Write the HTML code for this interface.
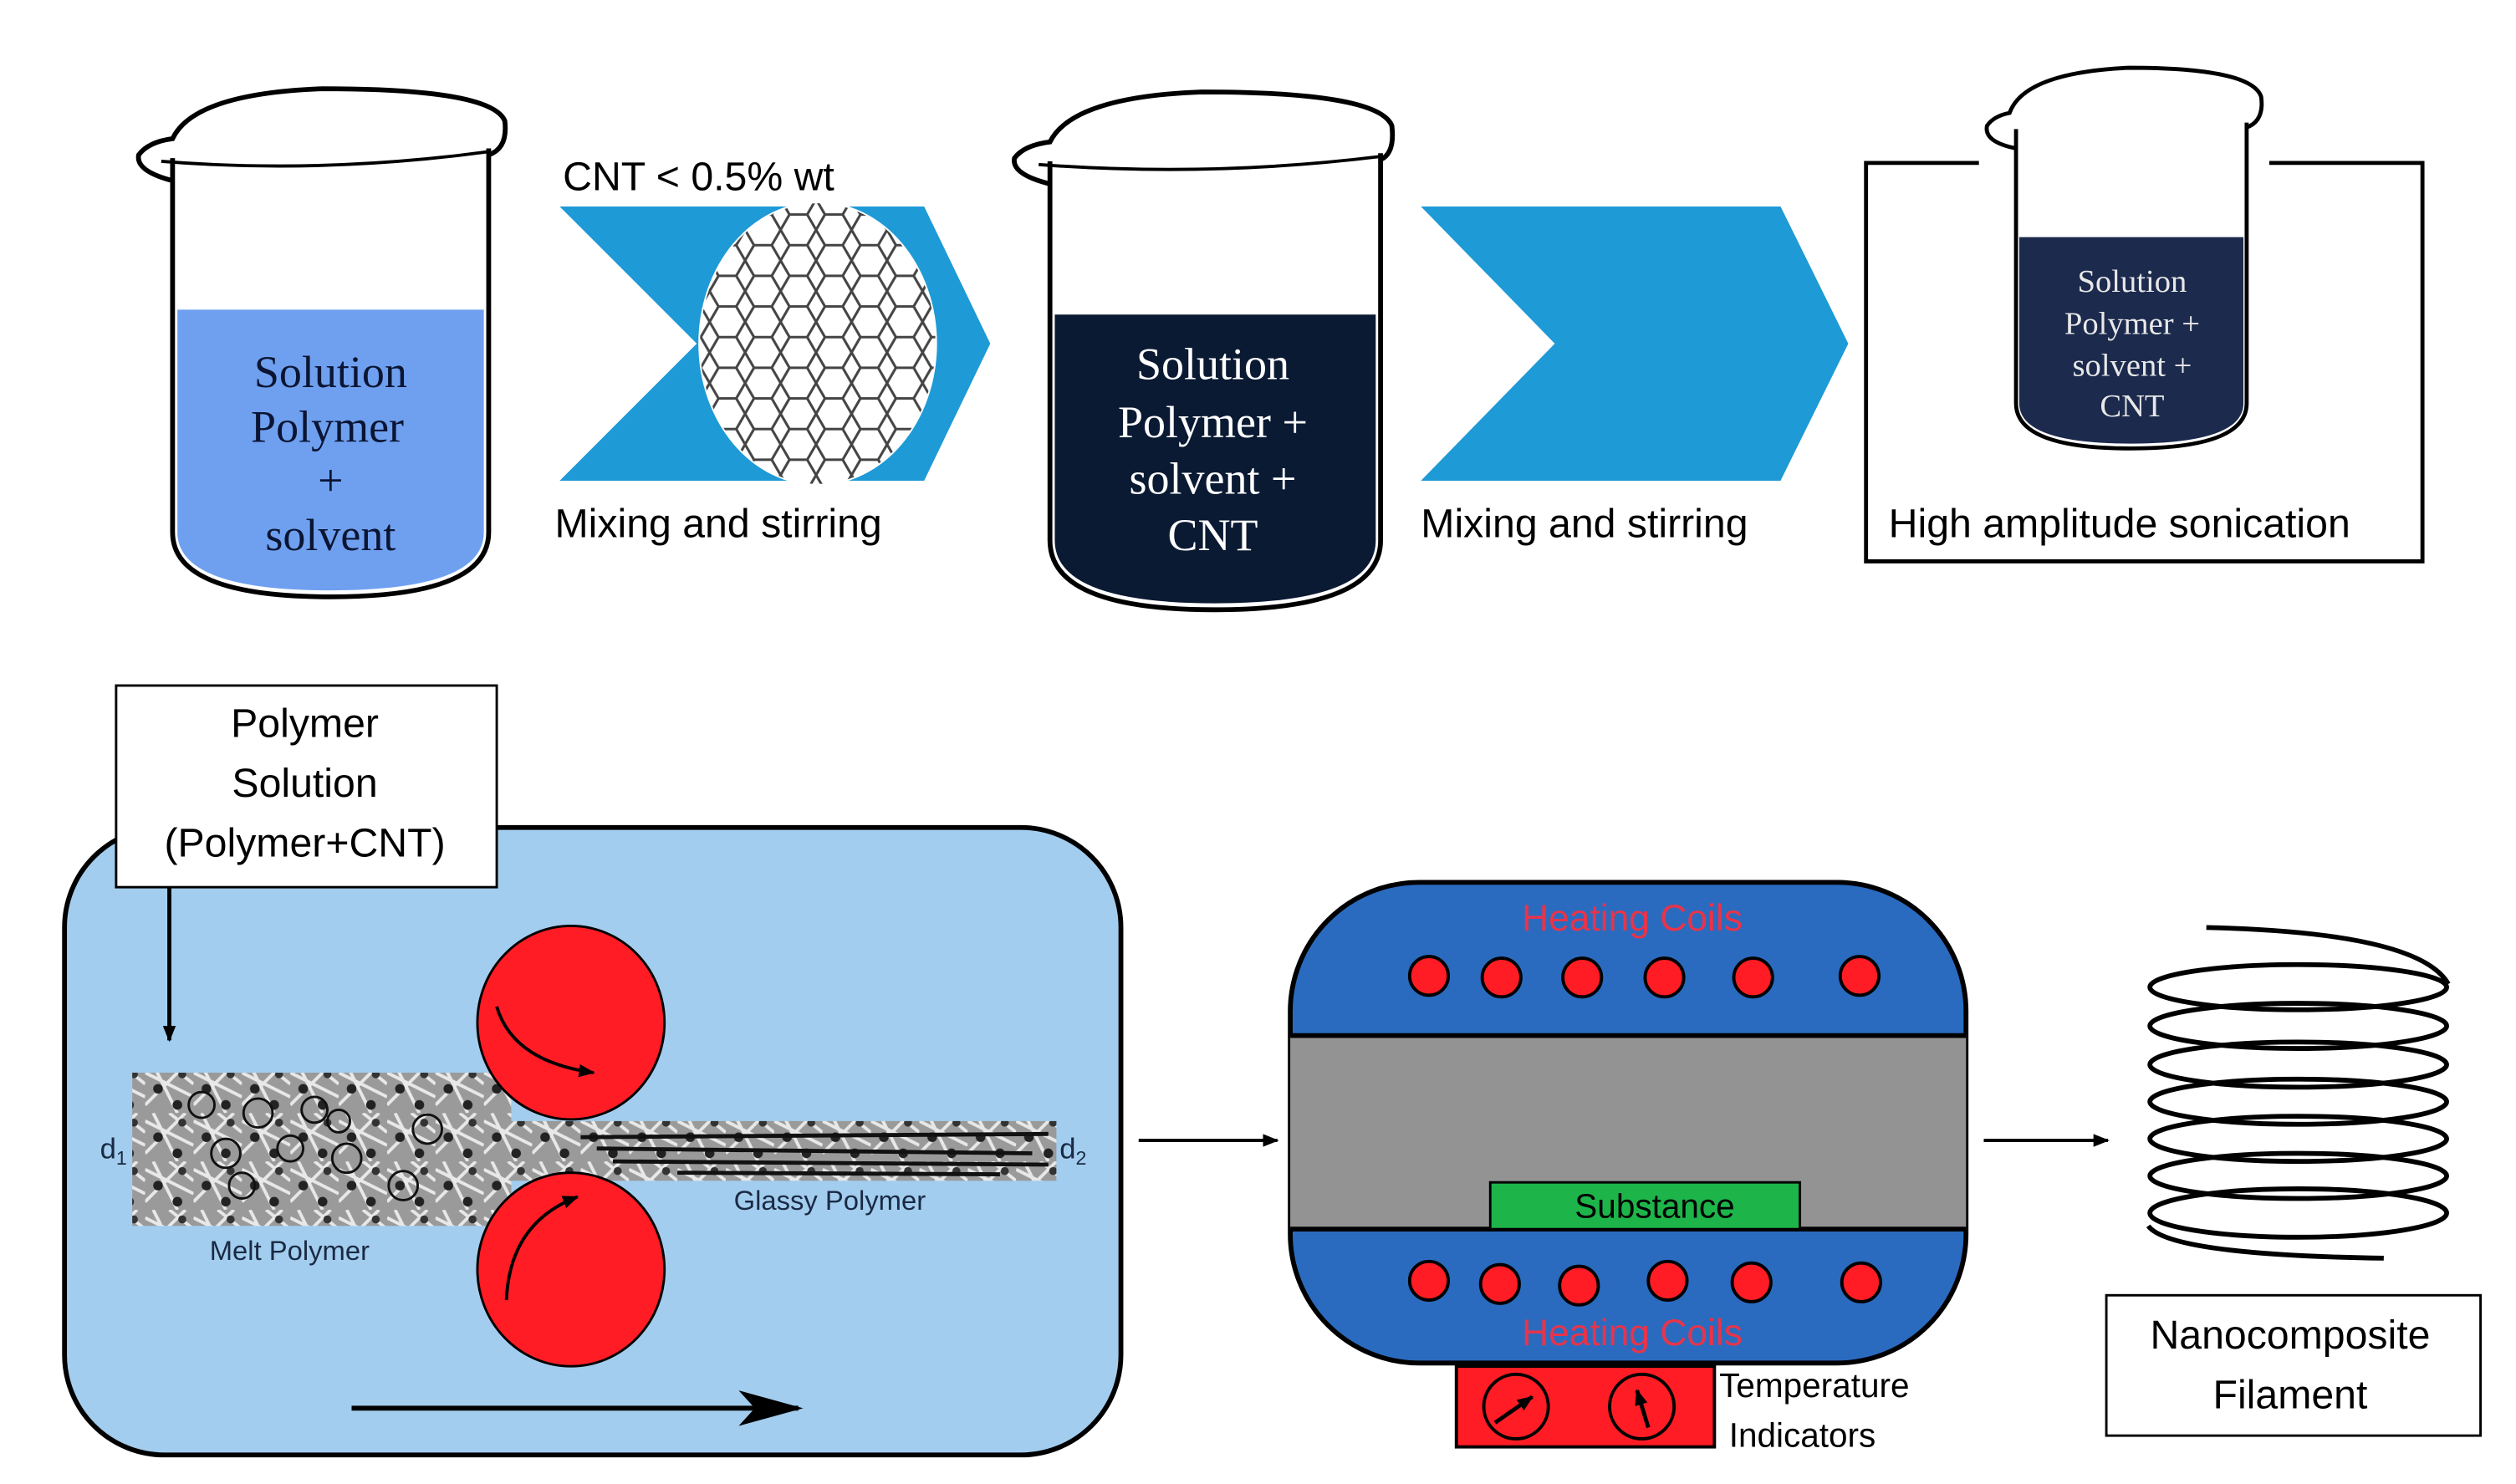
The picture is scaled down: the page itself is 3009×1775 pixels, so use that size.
<!DOCTYPE html>
<html><head><meta charset="utf-8"><style>
html,body{margin:0;padding:0;background:#fff}
svg{display:block}
.s{font-family:"Liberation Sans",sans-serif}
.r{font-family:"Liberation Serif",serif}
</style></head><body>
<svg width="3009" height="1775" viewBox="0 0 1560 920" preserveAspectRatio="none" xmlns="http://www.w3.org/2000/svg">
<defs>
<pattern id="hex" width="22" height="19" patternUnits="userSpaceOnUse">
<path d="M0 9.5 L5.5 0 L16.5 0 L22 9.5 L16.5 19 L5.5 19 Z" fill="none" stroke="#444" stroke-width="1.6"/>
</pattern>
<pattern id="tex" width="30" height="30" patternUnits="userSpaceOnUse">
<rect width="30" height="30" fill="#9a9a9a"/>
<path d="M0 5 L30 20 M5 0 L20 30 M0 25 L25 0 M15 0 L30 12" stroke="#e8e8e8" stroke-width="2"/>
<circle cx="8" cy="15" r="3" fill="#222"/><circle cx="23" cy="6" r="2.5" fill="#333"/><circle cx="20" cy="25" r="3" fill="#222"/>
</pattern>
<clipPath id="cb"><ellipse cx="507" cy="213" rx="73" ry="87"/></clipPath>
<marker id="ah" markerWidth="10" markerHeight="10" refX="9" refY="5" orient="auto" markerUnits="userSpaceOnUse"><path d="M0 1 L10 5 L0 9 Z" fill="#000"/></marker>
</defs>

<!-- Beaker 1 -->
<path d="M107 98 L107 330 Q107 370 205 370 Q303 370 303 330 L303 92" fill="#fff" stroke="#000" stroke-width="3"/>
<path d="M110 192 L300 192 L300 330 Q300 366 205 366 Q110 366 110 330 Z" fill="#6fa0f0"/>
<path d="M107 112 Q84 106 86 96 Q92 88 107 86 Q120 58 200 55 Q305 55 313 75 Q315 92 303 96" fill="none" stroke="#000" stroke-width="3"/>
<path d="M100 100 Q200 108 303 94" fill="none" stroke="#000" stroke-width="2"/>
<g class="r" font-size="28" fill="#0b1533" text-anchor="middle">
<text x="205" y="240">Solution</text><text x="203" y="274">Polymer</text><text x="205" y="307">+</text><text x="205" y="341">solvent</text></g>

<!-- Chevron 1 -->
<text class="s" x="349" y="118" font-size="25" fill="#000">CNT &lt; 0.5% wt</text>
<polygon points="347,128 573,128 614,213 573,298 347,298 432,213" fill="#1e9ad6"/>
<ellipse cx="507" cy="213" rx="74" ry="88" fill="#fff"/>
<rect x="430" y="120" width="160" height="190" fill="url(#hex)" clip-path="url(#cb)"/>
<text class="s" x="344" y="333" font-size="25" fill="#000">Mixing and stirring</text>

<!-- Beaker 2 -->
<path d="M651 100 L651 335 Q651 378 753 378 Q856 378 856 335 L856 95" fill="#fff" stroke="#000" stroke-width="3"/>
<path d="M654 195 L853 195 L853 335 Q853 374 753 374 Q654 374 654 335 Z" fill="#0b1a33"/>
<path d="M651 114 Q627 108 629 98 Q635 90 651 88 Q665 60 745 57 Q855 57 863 78 Q865 95 856 99" fill="none" stroke="#000" stroke-width="3"/>
<path d="M644 102 Q750 110 856 97" fill="none" stroke="#000" stroke-width="2"/>
<g class="r" font-size="28" fill="#fff" text-anchor="middle">
<text x="752" y="235">Solution</text><text x="752" y="271">Polymer +</text><text x="752" y="306">solvent +</text><text x="752" y="341">CNT</text></g>

<!-- Chevron 2 -->
<polygon points="881,128 1104,128 1146,213 1104,298 881,298 964,213" fill="#1e9ad6"/>
<text class="s" x="881" y="333" font-size="25" fill="#000">Mixing and stirring</text>

<!-- Sonication box -->
<path d="M1227 101 L1157 101 L1157 348 L1502 348 L1502 101 L1407 101" fill="none" stroke="#000" stroke-width="2.5"/>
<path d="M1250 80 L1250 250 Q1250 278 1321 278 Q1393 278 1393 250 L1393 76" fill="#fff" stroke="#000" stroke-width="2.5"/>
<path d="M1252 147 L1391 147 L1391 250 Q1391 275 1321 275 Q1252 275 1252 250 Z" fill="#1b2a4d"/>
<path d="M1250 92 Q1230 88 1232 78 Q1236 72 1246 70 Q1255 45 1320 42 Q1396 42 1402 60 Q1404 75 1393 79" fill="none" stroke="#000" stroke-width="2.5"/>
<g class="r" font-size="20" fill="#e8e8e8" text-anchor="middle">
<text x="1322" y="181">Solution</text><text x="1322" y="207">Polymer +</text><text x="1322" y="233">solvent +</text><text x="1322" y="258">CNT</text></g>
<text class="s" x="1171" y="333" font-size="25" fill="#000">High amplitude sonication</text>

<!-- Bottom left panel -->
<rect x="40" y="513" width="655" height="389" rx="62" fill="#a3cdee" stroke="#000" stroke-width="3"/>
<rect x="72" y="425" width="236" height="125" fill="#fff" stroke="#000" stroke-width="1.5"/>
<g class="s" font-size="25" fill="#000" text-anchor="middle">
<text x="189" y="457">Polymer</text><text x="189" y="494">Solution</text><text x="189" y="531">(Polymer+CNT)</text></g>
<line x1="105" y1="550" x2="105" y2="645" stroke="#000" stroke-width="2.5" marker-end="url(#ah)"/>
<rect x="82" y="665" width="235" height="95" fill="url(#tex)"/>
<rect x="310" y="695" width="345" height="37" fill="url(#tex)"/>
<g stroke="#111" stroke-width="2.5"><line x1="360" y1="705" x2="650" y2="703"/><line x1="370" y1="712" x2="640" y2="715"/><line x1="380" y1="720" x2="650" y2="722"/><line x1="420" y1="727" x2="620" y2="728"/></g>
<g fill="none" stroke="#111" stroke-width="1.5">
<circle cx="125" cy="685" r="8"/><circle cx="160" cy="690" r="9"/><circle cx="195" cy="688" r="8"/><circle cx="140" cy="715" r="9"/><circle cx="180" cy="712" r="8"/><circle cx="215" cy="718" r="9"/><circle cx="265" cy="700" r="9"/><circle cx="150" cy="735" r="8"/><circle cx="250" cy="735" r="9"/><circle cx="210" cy="695" r="7"/></g>
<ellipse cx="354" cy="634" rx="58" ry="60" fill="#ff1c24" stroke="#000" stroke-width="1.5"/>
<ellipse cx="354" cy="787" rx="58" ry="60" fill="#ff1c24" stroke="#000" stroke-width="1.5"/>
<path d="M308 624 Q318 658 368 665" fill="none" stroke="#000" stroke-width="2" marker-end="url(#ah)"/>
<path d="M314 806 Q316 758 358 742" fill="none" stroke="#000" stroke-width="2" marker-end="url(#ah)"/>
<g class="s" font-size="18" fill="#1a2a44">
<text x="62" y="718">d<tspan font-size="12" dy="4">1</tspan></text>
<text x="657" y="718">d<tspan font-size="12" dy="4">2</tspan></text>
<text x="130" y="781" font-size="17">Melt Polymer</text>
<text x="455" y="750" font-size="17">Glassy Polymer</text></g>
<line x1="218" y1="873" x2="495" y2="873" stroke="#000" stroke-width="3"/>
<polygon points="458,862 498,873 458,884 468,873" fill="#000"/>

<line x1="706" y1="707" x2="792" y2="707" stroke="#000" stroke-width="2" marker-end="url(#ah)"/>

<!-- Furnace -->
<rect x="800" y="547" width="419" height="298" rx="80" fill="#2a6bbf" stroke="#000" stroke-width="3"/>
<rect x="800" y="642" width="419" height="120" fill="#939393"/>
<line x1="800" y1="642" x2="1219" y2="642" stroke="#000" stroke-width="3"/>
<line x1="800" y1="762" x2="1219" y2="762" stroke="#000" stroke-width="3"/>
<rect x="924" y="733" width="192" height="29" fill="#1db54a" stroke="#000" stroke-width="1.5"/>
<text class="s" x="1026" y="755" font-size="21" fill="#000" text-anchor="middle">Substance</text>
<g fill="#ff1c24" stroke="#000" stroke-width="2">
<circle cx="886" cy="605" r="12"/><circle cx="931" cy="606" r="12"/><circle cx="981" cy="606" r="12"/><circle cx="1032" cy="606" r="12"/><circle cx="1087" cy="606" r="12"/><circle cx="1153" cy="605" r="12"/>
<circle cx="886" cy="794" r="12"/><circle cx="930" cy="796" r="12"/><circle cx="979" cy="797" r="12"/><circle cx="1034" cy="794" r="12"/><circle cx="1086" cy="795" r="12"/><circle cx="1154" cy="795" r="12"/></g>
<g class="s" font-size="23" fill="#e8344a" text-anchor="middle">
<text x="1012" y="577">Heating Coils</text><text x="1012" y="834">Heating Coils</text></g>
<rect x="903" y="847" width="160" height="50" fill="#ff1c24" stroke="#000" stroke-width="2"/>
<circle cx="940" cy="872" r="20" fill="none" stroke="#000" stroke-width="2"/>
<circle cx="1018" cy="872" r="20" fill="none" stroke="#000" stroke-width="2"/>
<line x1="927" y1="882" x2="950" y2="866" stroke="#000" stroke-width="2.5" marker-end="url(#ah)"/>
<line x1="1022" y1="885" x2="1015" y2="862" stroke="#000" stroke-width="2.5" marker-end="url(#ah)"/>
<g class="s" font-size="21" fill="#000"><text x="1066" y="866">Temperature</text><text x="1072" y="897">Indicators</text></g>

<line x1="1230" y1="707" x2="1307" y2="707" stroke="#000" stroke-width="2" marker-end="url(#ah)"/>

<!-- Spring -->
<g fill="none" stroke="#000" stroke-width="3">
<path d="M1368 575 Q1500 578 1518 610"/>
<ellipse cx="1425" cy="612" rx="92" ry="14"/><ellipse cx="1425" cy="636" rx="92" ry="14"/><ellipse cx="1425" cy="660" rx="92" ry="14"/><ellipse cx="1425" cy="683" rx="92" ry="14"/><ellipse cx="1425" cy="706" rx="92" ry="14"/><ellipse cx="1425" cy="729" rx="92" ry="14"/><ellipse cx="1425" cy="752" rx="92" ry="15"/>
<path d="M1332 760 Q1345 778 1478 780"/></g>
<rect x="1306" y="803" width="232" height="87" fill="#fff" stroke="#000" stroke-width="1.5"/>
<g class="s" font-size="25" fill="#000" text-anchor="middle"><text x="1420" y="836">Nanocomposite</text><text x="1420" y="873">Filament</text></g>
</svg>
</body></html>
